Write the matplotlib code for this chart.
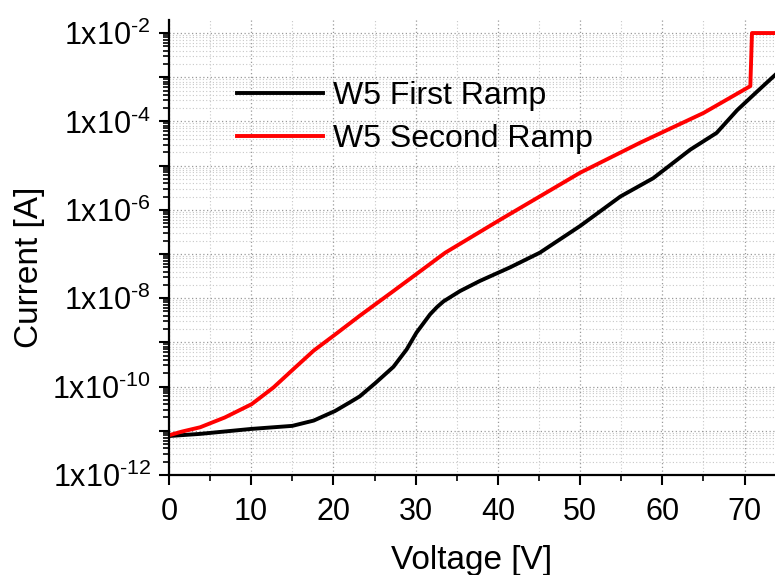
import math
import matplotlib
matplotlib.use("Agg")
import matplotlib.pyplot as plt
from matplotlib.ticker import FixedLocator, LogLocator, FuncFormatter, MultipleLocator

plt.rcParams['font.family'] = ['Liberation Sans', 'DejaVu Sans']
plt.rcParams['mathtext.fontset'] = 'custom'
plt.rcParams['mathtext.rm'] = 'Liberation Sans'
plt.rcParams['mathtext.it'] = 'Liberation Sans:italic'
plt.rcParams['mathtext.bf'] = 'Liberation Sans:bold'
plt.rcParams['mathtext.default'] = 'regular'

# W5 first ramp: voltage [V] vs current [A]
v_first = [0, 3.8, 10, 15, 17.6, 20.2, 22, 23.2, 25.1, 27.3, 28.9, 30.1,
           31.75, 32.6, 33.4, 35.4, 37.8, 41.5, 45.1, 50, 54.9, 58.9, 63.4,
           66.6, 69.1, 71.5, 73.7]
i_first = [7.6e-12, 8.5e-12, 1.1e-11, 1.29e-11, 1.7e-11, 2.8e-11, 4.4e-11,
           6.0e-11, 1.2e-10, 2.8e-10, 6.9e-10, 1.66e-9,
           4.3e-9, 6.3e-9, 8.5e-9, 1.45e-8, 2.45e-8, 5.0e-8, 1.07e-7, 4.3e-7,
           2.0e-6, 5.2e-6, 2.3e-5, 5.5e-5, 1.8e-4, 4.7e-4, 1.12e-3]

# W5 second ramp, hits the 10 mA compliance near 71 V
v_second = [0, 1.5, 3.8, 6.8, 10.06, 12.7, 15.1, 17.6, 20.2, 23.2, 27.3,
            30.5, 33.6, 40.3, 50, 57.3, 65, 70.7, 70.9, 74]
i_second = [7.9e-12, 9.5e-12, 1.2e-11, 2.0e-11, 4.0e-11, 9.5e-11, 2.45e-10,
            6.5e-10, 1.5e-9, 4.0e-9, 1.45e-8, 4.0e-8, 1.07e-7, 6.0e-7,
            6.9e-6, 3.3e-5, 1.55e-4, 6.3e-4, 1e-2, 1e-2]

fig = plt.figure(figsize=(7.75, 5.75), dpi=100)
ax = fig.add_axes([0.218, 0.174, 0.782, 0.791])

ax.plot(v_first, i_first, color='black', lw=2.8, label='W5 First Ramp')
ax.plot(v_second, i_second, color='#ff0000', lw=2.8, label='W5 Second Ramp')

ax.set_yscale('log')
ax.set_xlim(0, 73.7)
ax.set_ylim(1e-12, 1.96e-2)

ax.yaxis.set_major_locator(FixedLocator([10.0 ** e for e in range(-12, -1)]))
ax.yaxis.set_minor_locator(LogLocator(base=10, subs=range(2, 10), numticks=30))


def sci_label(val, pos):
    e = int(round(math.log10(val)))
    if e % 2:
        return ''
    return r'1x10$^{\text{-}%d}$' % abs(e)


ax.yaxis.set_major_formatter(FuncFormatter(sci_label))
ax.yaxis.set_minor_formatter(FuncFormatter(lambda v, p: ''))
ax.xaxis.set_major_locator(MultipleLocator(10))
ax.xaxis.set_minor_locator(MultipleLocator(5))

ax.grid(which='major', color='#9a9a9a', ls=(0, (1, 2)), lw=0.9)
ax.grid(which='minor', color='#c8c8c8', ls=(0, (1, 2)), lw=0.8)
ax.set_axisbelow(True)

for side in ['top', 'right']:
    ax.spines[side].set_visible(False)
for side in ['left', 'bottom']:
    ax.spines[side].set_linewidth(1.6)

ax.tick_params(which='major', direction='out', length=7, width=1.5,
               labelsize=22)
ax.tick_params(which='minor', direction='out', length=4, width=1.2)
ax.tick_params(axis='y', which='major', pad=6)
ax.tick_params(axis='x', which='major', pad=9)

ax.set_xlabel('Voltage [V]', fontsize=24)
ax.set_ylabel('Current [A]', fontsize=24)
ax.xaxis.set_label_coords(0.5, -0.155)
ax.yaxis.set_label_coords(-0.205, 0.457)

ax.legend(loc='upper left', bbox_to_anchor=(0.112, 0.866), frameon=False,
          fontsize=23, handlelength=2.7, handletextpad=0.3,
          labelspacing=0.4, borderpad=0, borderaxespad=0)

fig.savefig('out.png', dpi=100)
